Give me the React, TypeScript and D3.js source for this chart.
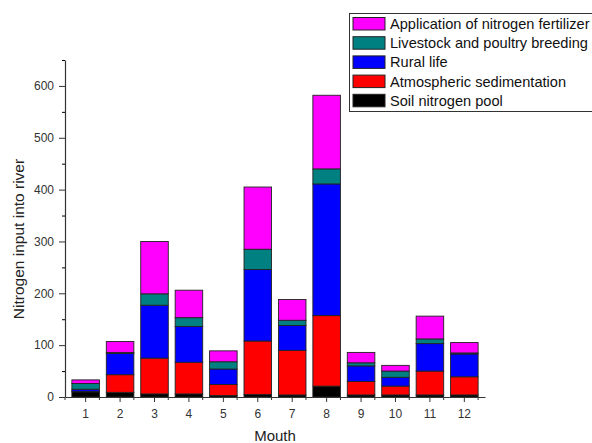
import React, { useEffect, useRef } from 'react';
import * as d3 from 'd3';

// monthly nitrogen input by source
const months = ['1', '2', '3', '4', '5', '6', '7', '8', '9', '10', '11', '12'];
const soilPool = [10, 9, 6, 6, 3, 5, 4, 21, 4, 4, 4, 4];
const atmospheric = [1, 34, 69, 61, 21, 103, 86, 136, 26, 17, 46, 35];
const ruralLife = [4, 41, 102, 69, 30, 138, 48, 254, 30, 17, 53, 44];
const livestock = [11, 2, 22, 17, 14, 39, 10, 29, 6, 12, 9, 2];
const fertilizer = [7, 21, 101, 53, 21, 120, 40, 142, 20, 11, 44, 20];

const seriesKeys = ['soil', 'atmo', 'rural', 'livestock', 'fert'];
const seriesLabels = [
  'Soil nitrogen pool',
  'Atmospheric sedimentation',
  'Rural life',
  'Livestock and poultry breeding',
  'Application of nitrogen fertilizer',
];
const seriesColors = ['#000000', '#ff0000', '#0000ff', '#008080', '#ff00ff'];
const yTicks = [0, 100, 200, 300, 400, 500, 600];
const yMinorTicks = [50, 150, 250, 350, 450, 550, 650];

const W = 592;
const H = 443;
const FONT = '"Liberation Sans", Arial, sans-serif';

export default function App() {
  const ref = useRef<SVGSVGElement>(null);

  useEffect(() => {
    const svg = d3.select(ref.current);
    svg.selectAll('*').remove();

    const rows = months.map((m, i) => ({
      month: m,
      soil: soilPool[i],
      atmo: atmospheric[i],
      rural: ruralLife[i],
      livestock: livestock[i],
      fert: fertilizer[i],
    }));

    const x = d3.scaleBand().domain(months).range([65, 485]).padding(0.2);
    const y = d3.scaleLinear().domain([0, 650]).range([397, 60]);
    const stacked = d3.stack<any>().keys(seriesKeys)(rows);

    // bars
    const layers = svg.append('g')
      .selectAll('g')
      .data(stacked)
      .join('g')
      .attr('fill', (d, i) => seriesColors[i]);
    layers.selectAll('rect')
      .data(d => d)
      .join('rect')
      .attr('x', d => x(d.data.month)!)
      .attr('width', x.bandwidth())
      .attr('y', d => y(d[1]))
      .attr('height', d => y(d[0]) - y(d[1]))
      .attr('stroke', '#222')
      .attr('stroke-width', 0.9);

    // y axis
    const yAxis = svg.append('g')
      .attr('transform', 'translate(65,0)')
      .call(d3.axisLeft(y).tickValues(yTicks).tickSize(6).tickSizeOuter(0));
    svg.append('g')
      .attr('transform', 'translate(65,0)')
      .call(d3.axisLeft(y).tickValues(yMinorTicks).tickSize(3).tickFormat(() => '').tickSizeOuter(0))
      .call(g => g.select('.domain').remove());

    // x axis
    const xAxis = svg.append('g')
      .attr('transform', 'translate(0,397)')
      .call(d3.axisBottom(x).tickSize(5).tickSizeOuter(0).tickPadding(7));
    const step = x.step();
    const bounds = d3.range(0, months.length + 1).map(i => 65 + i * step);
    svg.append('g')
      .selectAll('line')
      .data(bounds)
      .join('line')
      .attr('x1', d => d)
      .attr('x2', d => d)
      .attr('y1', 397)
      .attr('y2', 400)
      .attr('stroke', '#333');

    [yAxis, xAxis].forEach(g => {
      g.selectAll('.domain').attr('stroke', '#333').attr('stroke-width', 1.2);
      g.selectAll('.tick line').attr('stroke', '#333');
      g.selectAll('text')
        .attr('font-family', FONT)
        .attr('font-size', 12)
        .attr('fill', '#333');
    });
    yAxis.selectAll('.tick text').attr('x', -11);

    // axis titles
    svg.append('text')
      .attr('x', 275)
      .attr('y', 441)
      .attr('text-anchor', 'middle')
      .attr('font-family', FONT)
      .attr('font-size', 15)
      .attr('fill', '#222')
      .text('Mouth');
    svg.append('text')
      .attr('transform', 'translate(24,239) rotate(-90)')
      .attr('text-anchor', 'middle')
      .attr('font-family', FONT)
      .attr('font-size', 15.5)
      .attr('fill', '#222')
      .text('Nitrogen input into river');

    // legend, top entry is the top of the stack
    const legend = svg.append('g');
    legend.append('rect')
      .attr('x', 349.5)
      .attr('y', 13.5)
      .attr('width', 260)
      .attr('height', 98)
      .attr('fill', 'white')
      .attr('stroke', '#333');
    const order = d3.range(seriesKeys.length).reverse();
    order.forEach((si, row) => {
      const top = 17.5 + row * 19.2;
      legend.append('rect')
        .attr('x', 353)
        .attr('y', top)
        .attr('width', 32)
        .attr('height', 12.5)
        .attr('fill', seriesColors[si])
        .attr('stroke', '#222');
      legend.append('text')
        .attr('x', 390)
        .attr('y', top + 11.5)
        .attr('font-family', FONT)
        .attr('font-size', 14.6)
        .attr('fill', '#111')
        .text(seriesLabels[si]);
    });
  }, []);

  return (
    <svg
      ref={ref}
      width={W}
      height={H}
      style={{ position: 'absolute', left: 0, top: 0, background: 'white' }}
    />
  );
}
